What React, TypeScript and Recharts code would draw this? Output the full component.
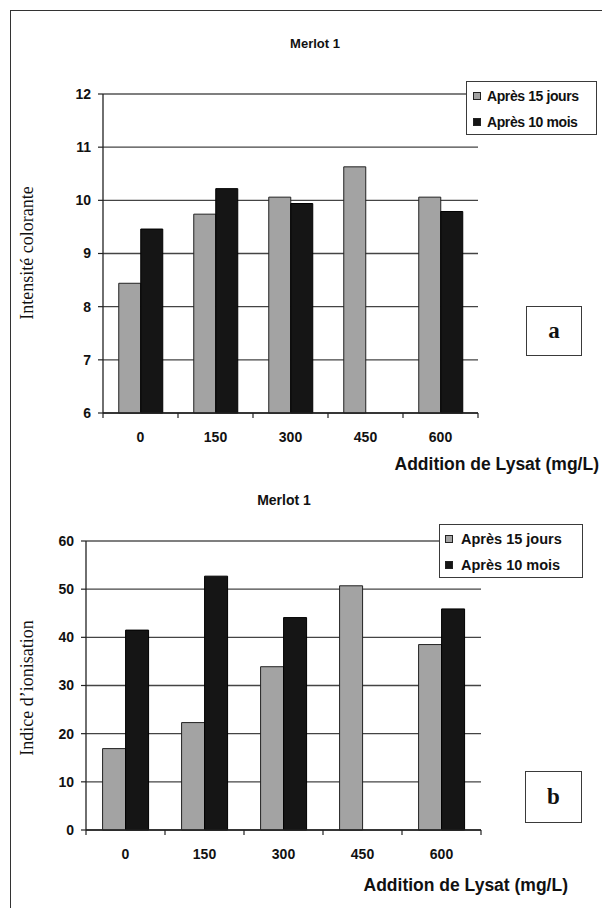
import React from "react"
import { BarChart, Bar, XAxis, YAxis, CartesianGrid, Legend, ReferenceLine } from "recharts"

const doses = ["0", "150", "300", "450", "600"]

// a : intensité colorante
const intensite15j = [8.44, 9.74, 10.06, 10.63, 10.06]
const intensite10m = [9.46, 10.22, 9.94, null, 9.79]
const intensiteTicks = [6, 7, 8, 9, 10, 11, 12]

// b : indice d'ionisation
const ionisation15j = [16.9, 22.3, 33.9, 50.7, 38.5]
const ionisation10m = [41.5, 52.7, 44.1, null, 45.9]
const ionisationTicks = [0, 10, 20, 30, 40, 50, 60]

const serie15j = "Après 15 jours"
const serie10m = "Après 10 mois"
const serieOrder = [serie15j, serie10m]

const SANS = "'Liberation Sans', Arial, sans-serif"
const SERIF = "'Liberation Serif', 'Times New Roman', serif"
const GRAY = "#a3a3a3"
const BLACK = "#151515"

const dataA = doses.map((d, i) => ({ dose: d, j15: intensite15j[i], m10: intensite10m[i] }))
const dataB = doses.map((d, i) => ({ dose: d, j15: ionisation15j[i], m10: ionisation10m[i] }))

function BoundaryTick(props: any) {
  const { x, y, payload, index, band, count } = props
  return (
    <g>
      <line x1={x - band / 2} x2={x - band / 2} y1={y} y2={y + 5} stroke="#222" strokeWidth={1.2} />
      {index === count - 1 && (
        <line x1={x + band / 2} x2={x + band / 2} y1={y} y2={y + 5} stroke="#222" strokeWidth={1.2} />
      )}
      <text
        x={x}
        y={y + 24}
        textAnchor="middle"
        dominantBaseline="central"
        fontFamily={SANS}
        fontWeight={700}
        fontSize={14}
        fill="#111"
      >
        {payload.value}
      </text>
    </g>
  )
}

function LegendBox({ payload, fontSize, rowH, swatchLeft, textLeft, spacing }: any) {
  // keep the series order of the original (15 jours first)
  const items = [...(payload || [])].sort(
    (a: any, b: any) => serieOrder.indexOf(a.value) - serieOrder.indexOf(b.value)
  )
  return (
    <div
      style={{
        width: "100%",
        height: "100%",
        boxSizing: "border-box",
        border: "1.5px solid #3a3a3a",
        background: "#fff",
        paddingTop: 1,
      }}
    >
      {items.map((p: any) => (
        <div key={p.value} style={{ position: "relative", height: rowH, display: "flex", alignItems: "center" }}>
          <span
            style={{
              position: "absolute",
              left: swatchLeft,
              width: 6,
              height: 6,
              background: p.color,
              border: "1px solid #222",
            }}
          />
          <span
            style={{
              position: "absolute",
              left: textLeft,
              fontFamily: SANS,
              fontWeight: 700,
              fontSize,
              letterSpacing: spacing,
              color: "#111",
              whiteSpace: "nowrap",
            }}
          >
            {p.value}
          </span>
        </div>
      ))}
    </div>
  )
}

function Panel(props: any) {
  const {
    top, height, data, domain, ticks, margin, band, yLabel, title, titleX, titleY, titleSize,
    xTitleRight, xTitleY, yLabelY, letter, letterBox, legendBox, legendFont, legendSpacing,
    legendRowH, legendSwatch, legendText,
  } = props
  return (
    <div style={{ position: "absolute", left: 0, top, width: 602, height }}>
      <BarChart width={602} height={height} data={data} margin={margin} barGap={0} barCategoryGap="21%">
        <CartesianGrid vertical={false} stroke="#444" strokeWidth={1.3} />
        <XAxis
          dataKey="dose"
          interval={0}
          tickLine={false}
          tickSize={0}
          tickMargin={0}
          height={30}
          axisLine={{ stroke: "#222", strokeWidth: 1.3 }}
          tick={(p: any) => <BoundaryTick {...p} band={band} count={data.length} />}
        />
        <YAxis
          domain={domain}
          ticks={ticks}
          interval={0}
          width={40}
          tickSize={5}
          tickMargin={7}
          axisLine={{ stroke: "#222", strokeWidth: 1.3 }}
          tickLine={{ stroke: "#222", strokeWidth: 1.2 }}
          tick={{ fontFamily: SANS, fontWeight: 700, fontSize: 14, fill: "#111" }}
        />
        <YAxis
          yAxisId="edge"
          orientation="right"
          domain={domain}
          width={0}
          tick={false}
          tickLine={false}
          axisLine={{ stroke: "#8c8c8c", strokeWidth: 1.2 }}
        />
        <ReferenceLine y={domain[1]} stroke="#8c8c8c" strokeWidth={1.2} />
        <Bar dataKey="j15" name={serie15j} fill={GRAY} stroke="#222" strokeWidth={1} isAnimationActive={false} />
        <Bar dataKey="m10" name={serie10m} fill={BLACK} stroke="#000" strokeWidth={1} isAnimationActive={false} />
        <Legend
          layout="vertical"
          align="center"
          verticalAlign="middle"
          wrapperStyle={{ left: legendBox.left, top: legendBox.top, width: legendBox.width, height: legendBox.height }}
          content={(lp: any) => (
            <LegendBox
              payload={lp.payload}
              fontSize={legendFont}
              rowH={legendRowH}
              swatchLeft={legendSwatch}
              textLeft={legendText}
              spacing={legendSpacing}
            />
          )}
        />
      </BarChart>

      <div
        style={{
          position: "absolute", left: titleX, top: titleY, transform: "translate(-50%, -50%)",
          fontFamily: SANS, fontWeight: 700, fontSize: titleSize, color: "#111", whiteSpace: "nowrap",
        }}
      >
        {title}
      </div>
      <div
        style={{
          position: "absolute", right: 602 - xTitleRight, top: xTitleY, transform: "translateY(-50%)",
          fontFamily: SANS, fontWeight: 700, fontSize: 17.5, color: "#111", whiteSpace: "nowrap",
        }}
      >
        Addition de Lysat (mg/L)
      </div>
      <div
        style={{
          position: "absolute", left: 27, top: yLabelY, transform: "translate(-50%, -50%) rotate(-90deg)",
          fontFamily: SERIF, fontSize: 18, color: "#111", whiteSpace: "nowrap",
        }}
      >
        {yLabel}
      </div>
      <div
        style={{
          position: "absolute", left: letterBox.left, top: letterBox.top, width: letterBox.width,
          height: letterBox.height, boxSizing: "border-box", border: "1.5px solid #3a3a3a",
          display: "flex", alignItems: "center", justifyContent: "center",
          fontFamily: SERIF, fontWeight: 700, fontSize: 23, color: "#111",
        }}
      >
        {letter}
      </div>
    </div>
  )
}

export default function App() {
  return (
    <div style={{ position: "absolute", left: 0, top: 0, width: 602, height: 908, background: "#fff", overflow: "hidden" }}>
      <div
        style={{
          position: "absolute", left: 10, top: 10, right: -4, bottom: -4,
          borderLeft: "1.5px solid #333", borderTop: "1.5px solid #333",
        }}
      />
      <Panel
        top={0}
        height={470}
        data={dataA}
        domain={[6, 12]}
        ticks={intensiteTicks}
        margin={{ top: 94, right: 124, bottom: 27, left: 63 }}
        band={75}
        yLabel="Intensité colorante"
        title="Merlot 1"
        titleX={315}
        titleY={43}
        titleSize={13}
        xTitleRight={599}
        xTitleY={464}
        yLabelY={253}
        letter="a"
        letterBox={{ left: 526, top: 306, width: 56, height: 50 }}
        legendBox={{ left: 466, top: 81, width: 131, height: 54 }}
        legendFont={14}
        legendSpacing={-0.4}
        legendRowH={26}
        legendSwatch={6}
        legendText={20}
      />
      <Panel
        top={470}
        height={438}
        data={dataB}
        domain={[0, 60]}
        ticks={ionisationTicks}
        margin={{ top: 71, right: 121, bottom: 48, left: 46 }}
        band={79}
        yLabel="Indice d’ionisation"
        title="Merlot 1"
        titleX={284}
        titleY={30}
        titleSize={14}
        xTitleRight={568}
        xTitleY={415}
        yLabelY={218}
        letter="b"
        letterBox={{ left: 525, top: 301, width: 57, height: 52 }}
        legendBox={{ left: 439, top: 54, width: 144, height: 54 }}
        legendFont={14.5}
        legendSpacing={0}
        legendRowH={26}
        legendSwatch={5}
        legendText={21}
      />
    </div>
  )
}
